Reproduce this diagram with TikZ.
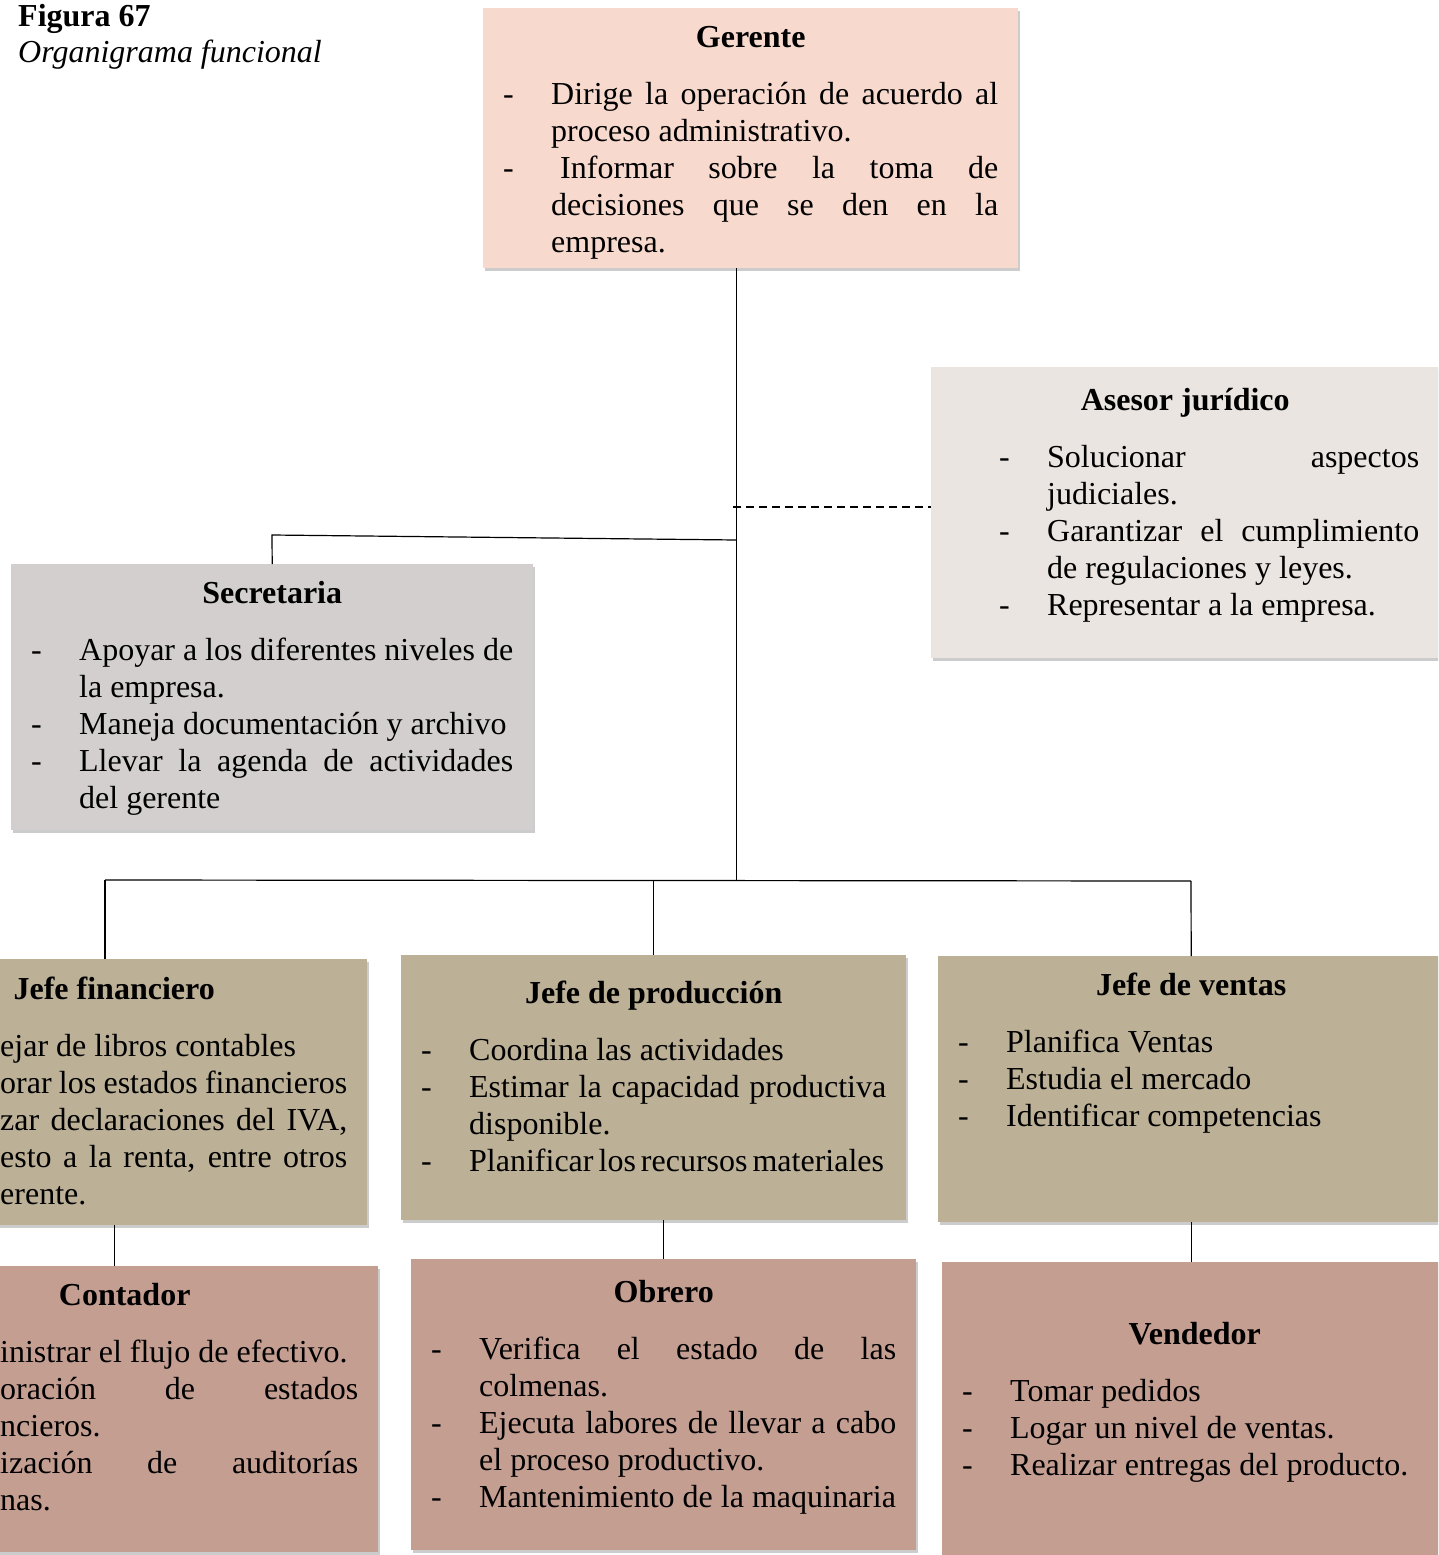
\documentclass[tikz,border=0pt]{standalone}
\usepackage{fontspec}
\setmainfont{Liberation Serif}
\usetikzlibrary{shadows}

\definecolor{gerentefill}{HTML}{F8D9CE}
\definecolor{asesorfill}{HTML}{EAE5E0}
\definecolor{secrefill}{HTML}{D3CFCE}
\definecolor{jefefill}{HTML}{BCB096}
\definecolor{basefill}{HTML}{C59E92}

\newcommand{\orgtitle}[1]{{\centering\bfseries #1\par}\vspace{20pt}\rightskip=0pt\relax\parfillskip=0pt plus 1fil\relax\spaceskip=0.25em plus 1em minus 0.07em\relax}
\newcommand{\orgitem}[1]{\par\hangindent=48pt\hangafter=1\noindent\makebox[48pt][l]{-}#1}

\begin{document}
\begin{tikzpicture}[
  x=1pt, y=-1pt,
  box/.style={anchor=north west, inner xsep=20pt, inner ysep=0pt, text height=39pt,
    align=justify, font=\fontsize{32}{37}\selectfont,
    drop shadow={shadow xshift=1.5pt, shadow yshift=-3pt, opacity=0.4}},
  link/.style={line width=1.2pt},
  dashlink/.style={line width=1.2pt, dash pattern=on 8pt off 5pt}
]
\useasboundingbox (0,0) rectangle (1438,1555);
\clip (0,0) rectangle (1438,1555);

\node[anchor=base west, inner sep=0pt, font=\fontsize{32}{35}\selectfont\bfseries] (fignum) at (18,27) {Figura 67};
\node[anchor=base west, inner sep=0pt, font=\fontsize{32}{35}\selectfont\itshape] (figname) at (18,63) {Organigrama funcional};

\node[box, fill=gerentefill, text width=495pt, text depth=221pt] (gerente) at (483,8) {\orgtitle{Gerente}
\orgitem{Dirige la operación de acuerdo al\linebreak proceso administrativo.}
\orgitem{\hspace*{9pt}Informar sobre la toma de\linebreak decisiones que se den en la\linebreak empresa.}\par};

\node[box, fill=asesorfill, text width=468pt, text height=43pt, text depth=248pt] (asesor) at (931,367) {\orgtitle{Asesor jurídico}\leftskip=48pt
\orgitem{Solucionar aspectos\linebreak judiciales.}
\orgitem{Garantizar el cumplimiento\linebreak de regulaciones y leyes.}
\orgitem{Representar a la empresa.}\par};

\node[box, fill=secrefill, text width=482pt, text depth=227pt] (secretaria) at (11,564) {\orgtitle{Secretaria}
\orgitem{Apoyar a los diferentes niveles de\linebreak la empresa.}
\orgitem{Maneja documentación y archivo}
\orgitem{Llevar la agenda de actividades\linebreak del gerente}\par};

\node[box, fill=jefefill, text width=466pt, text height=40pt, text depth=226pt] (jfin) at (-139,959) {\orgtitle{Jefe financiero}\leftskip=119pt
ejar de libros contables\par
orar los estados financieros\par
zar declaraciones del IVA,\linebreak esto a la renta, entre otros\linebreak erente.\par};

\node[box, fill=jefefill, text width=465pt, text height=48pt, text depth=217pt] (jprod) at (401,955) {\orgtitle{Jefe de producción}
\orgitem{Coordina las actividades}
\orgitem{Estimar la capacidad productiva\linebreak disponible.}
\orgitem{\spaceskip=5pt minus 1pt Planificar los recursos materiales}\par};

\node[box, fill=jefefill, text width=466pt, text depth=227pt] (jventas) at (938,956) {\orgtitle{Jefe de ventas}
\orgitem{Planifica Ventas}
\orgitem{Estudia el mercado}
\orgitem{Identificar competencias}\par};

\node[box, fill=basefill, text width=467pt, text depth=247pt] (contador) at (-129,1266) {\orgtitle{Contador}\leftskip=109pt
inistrar el flujo de efectivo.\par
oración de estados\linebreak ncieros.\par
ización de auditorías\linebreak nas.\par};

\node[box, fill=basefill, text width=465pt, text height=43pt, text depth=248pt] (obrero) at (411,1259) {\orgtitle{Obrero}
\orgitem{Verifica el estado de las\linebreak colmenas.}
\orgitem{Ejecuta labores de llevar a cabo\linebreak el proceso productivo.}
\orgitem{Mantenimiento de la maquinaria}\par};

\node[box, fill=basefill, text width=465pt, text height=82pt, text depth=218pt] (vendedor) at (942,1262) {\orgtitle{Vendedor}
\orgitem{Tomar pedidos}
\orgitem{Logar un nivel de ventas.}
\orgitem{Realizar entregas del producto.}\par};

\coordinate (hub) at (736.5,880);
\coordinate (legal) at (733,507);
\coordinate (secjoint) at (736.5,540);
\coordinate (secbend) at (272,535);
\coordinate (busl) at (105,880);
\coordinate (busr) at (1191,881);

\draw[link] (gerente.south -| hub) -- (hub);
\draw[dashlink] (legal) -- (legal -| asesor.west);
\draw[link] (secjoint) -- (secbend) -- (secretaria.north);
\draw[link] (busl) -- (busr);
\draw[link] (busl) -- (busl |- jfin.north);
\draw[link] (jprod.north |- hub) -- (jprod.north);
\draw[link] (busr) -- (jventas.north);
\draw[link] (jfin.south) -- (jfin.south |- contador.north);
\draw[link] (obrero.north |- jprod.south) -- (obrero.north);
\draw[link] (jventas.south) -- (jventas.south |- vendedor.north);
\end{tikzpicture}
\end{document}
